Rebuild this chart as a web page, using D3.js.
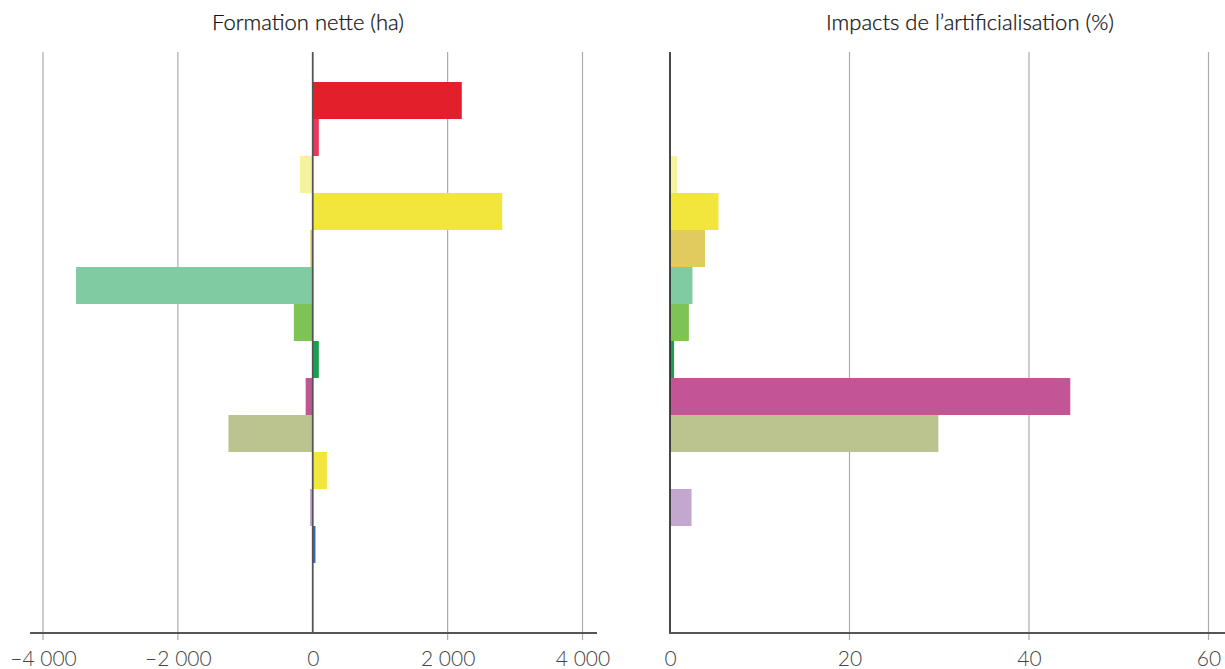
<!DOCTYPE html>
<html><head><meta charset="utf-8">
<script src="https://cdn.jsdelivr.net/npm/d3@7"></script>
<style>
html,body{margin:0;padding:0;background:#fff;}
svg{display:block;}
text{font-family:Lato,"Open Sans",sans-serif;}
</style></head>
<body>
<svg id="chart" width="1225" height="669"></svg>
<script>
// Data
const categories = ["c1","c2","c3","c4","c5","c6","c7","c8","c9","c10","c11","c12","c13"];
const colors = ["#E31F2B","#E8385C","#F6F39F","#F2E63C","#E0CB5C","#80CBA2","#7DC356","#1A9E4F","#C25594","#BBC38F","#F2E63C","#C3A7CF","#3C67AE"];
const netFormation = [2210, 90, -190, 2810, -35, -3510, -280, 90, -105, -1250, 210, -40, 40];
const impacts = [null, null, 0.8, 5.4, 3.9, 2.5, 2.1, 0.45, 44.6, 29.9, null, 2.4, null];
const leftTicks = [-4000, -2000, 0, 2000, 4000];
const rightTicks = [0, 20, 40, 60];
const leftTitle = "Formation nette (ha)";
const rightTitle = "Impacts de l\u2019artificialisation (%)";

const svg = d3.select("#chart");
const gridTop = 52, axisY = 633;

const y = d3.scaleBand().domain(categories).range([82, 82 + 37 * categories.length]).padding(0);

const fmt = v => {
  const s = d3.format(",")(Math.abs(v)).replace(/,/g, " ");
  return (v < 0 ? "\u2013" : "") + s;
};

// ---------- Left panel ----------
const xL = d3.scaleLinear().domain([-4000, 4000]).range([43, 582.5]);
const gL = svg.append("g");
gL.selectAll("line.grid").data(leftTicks.filter(d => d !== 0)).join("line")
  .attr("x1", d => xL(d)).attr("x2", d => xL(d))
  .attr("y1", gridTop).attr("y2", axisY + 7)
  .attr("stroke", "#ababab").attr("stroke-width", 1.2);
gL.selectAll("rect").data(categories).join("rect")
  .attr("x", (d, i) => Math.min(xL(0), xL(netFormation[i])))
  .attr("width", (d, i) => Math.abs(xL(netFormation[i]) - xL(0)))
  .attr("y", d => y(d)).attr("height", y.bandwidth())
  .attr("fill", (d, i) => colors[i]);
gL.append("line").attr("x1", xL(0)).attr("x2", xL(0)).attr("y1", gridTop).attr("y2", axisY)
  .attr("stroke", "#555").attr("stroke-width", 1.8);
const axL = d3.axisBottom(xL).tickValues(leftTicks).tickFormat(fmt).tickSize(0).tickPadding(18);
const gAxL = gL.append("g").attr("transform", `translate(0,${axisY})`).call(axL);
gAxL.select(".domain").remove();
gAxL.selectAll("text").attr("font-size", 21).attr("font-weight", 300).attr("fill", "#444")
  .attr("font-family", "Lato, 'Open Sans', sans-serif");
gL.append("line").attr("x1", 30).attr("x2", 597).attr("y1", axisY).attr("y2", axisY)
  .attr("stroke", "#555").attr("stroke-width", 2);
gL.append("text").attr("x", 308).attr("y", 30).attr("text-anchor", "middle")
  .attr("font-size", 22).attr("font-weight", 300).attr("fill", "#111").attr("stroke", "#111").attr("stroke-width", 0.25).text(leftTitle);

// ---------- Right panel ----------
const xR = d3.scaleLinear().domain([0, 60]).range([670, 1208.5]);
const gR = svg.append("g");
gR.selectAll("line.grid").data(rightTicks.filter(d => d !== 0)).join("line")
  .attr("x1", d => xR(d)).attr("x2", d => xR(d))
  .attr("y1", gridTop).attr("y2", axisY + 7)
  .attr("stroke", "#ababab").attr("stroke-width", 1.2);
const rData = categories.map((c, i) => ({c, v: impacts[i], col: colors[i]})).filter(d => d.v != null);
gR.selectAll("rect").data(rData).join("rect")
  .attr("x", xR(0))
  .attr("width", d => xR(d.v) - xR(0))
  .attr("y", d => y(d.c)).attr("height", y.bandwidth())
  .attr("fill", d => d.col);
gR.append("line").attr("x1", xR(0)).attr("x2", xR(0)).attr("y1", gridTop).attr("y2", axisY)
  .attr("stroke", "#333").attr("stroke-width", 1.8);
const axR = d3.axisBottom(xR).tickValues(rightTicks).tickFormat(d3.format("d")).tickSize(0).tickPadding(18);
const gAxR = gR.append("g").attr("transform", `translate(0,${axisY})`).call(axR);
gAxR.select(".domain").remove();
gAxR.selectAll("text").attr("font-size", 21).attr("font-weight", 300).attr("fill", "#444")
  .attr("font-family", "Lato, 'Open Sans', sans-serif");
gR.append("line").attr("x1", 669).attr("x2", 1225).attr("y1", axisY).attr("y2", axisY)
  .attr("stroke", "#555").attr("stroke-width", 2);
gR.append("text").attr("x", 970).attr("y", 30).attr("text-anchor", "middle")
  .attr("font-size", 22).attr("font-weight", 300).attr("fill", "#111").attr("stroke", "#111").attr("stroke-width", 0.25).text(rightTitle);
</script>
</body></html>
